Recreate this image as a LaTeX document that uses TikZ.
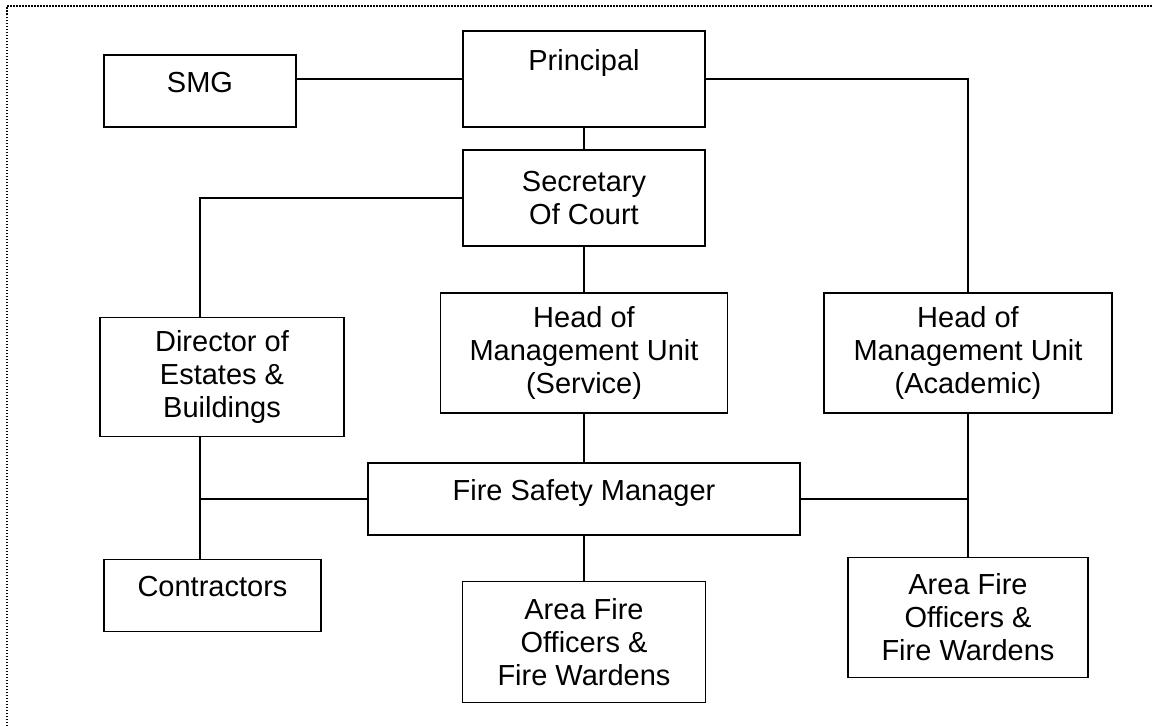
\documentclass[tikz,border=0pt]{standalone}
\usepackage{fontspec}
\setmainfont{Liberation Sans}
\begin{document}
\begin{tikzpicture}[x=1pt,y=-1pt,
  box/.style={draw, line width=1.8pt, rectangle, inner sep=0pt, align=center,
    font=\fontsize{29}{33}\selectfont},
  oneline/.style={text height=20pt, text depth=18pt},
  conn/.style={line width=1.6pt},
  frame/.style={line width=1.5pt, dash pattern=on 1.5pt off 1.5pt}]
\useasboundingbox (0,0) rectangle (1153,726);
\draw[frame] (7,726) -- (7,6) -- (1153,6);

\node[box, oneline, minimum width=192pt, minimum height=72pt] (smg) at (200,91) {SMG};
\node[box, text height=20pt, text depth=38pt, minimum width=242pt, minimum height=96pt] (principal) at (584,79) {Principal};
\node[box, minimum width=242pt, minimum height=96pt] (secretary) at (584,198) {Secretary\\Of Court};
\node[box, minimum width=244pt, minimum height=119pt] (director) at (222,377) {Director of\\Estates \&\\Buildings};
\node[box, minimum width=287pt, minimum height=120pt] (service) at (584,353) {Head of\\Management Unit\\(Service)};
\node[box, minimum width=288pt, minimum height=120pt] (academic) at (968,353) {Head of\\Management Unit\\(Academic)};
\node[box, oneline, minimum width=432pt, minimum height=72pt] (fsm) at (584,499) {Fire Safety Manager};
\node[box, oneline, minimum width=217pt, minimum height=72pt] (contractors) at (212.5,595.5) {Contractors};
\node[box, minimum width=243pt, minimum height=121pt] (areamid) at (584,642) {Area Fire\\Officers \&\\Fire Wardens};
\node[box, minimum width=240pt, minimum height=120pt] (arearight) at (968,617.5) {Area Fire\\Officers \&\\Fire Wardens};

\coordinate (dx) at (200,0);

\draw[conn] (principal.west) -- (principal.west -| smg.east);
\draw[conn] (principal.east) -| (academic.north);
\draw[conn] (principal.south) -- (secretary.north);
\draw[conn] (secretary.west) -| (director.north -| dx);
\draw[conn] (secretary.south) -- (service.north);
\draw[conn] (service.south) -- (fsm.north);
\draw[conn] (fsm.south) -- (areamid.north);
\draw[conn] (director.south -| dx) -- (contractors.north -| dx);
\draw[conn] (fsm.west) -- (fsm.west -| dx);
\draw[conn] (academic.south) -- (arearight.north);
\draw[conn] (fsm.east) -- (fsm.east -| academic.south);
\end{tikzpicture}
\end{document}
